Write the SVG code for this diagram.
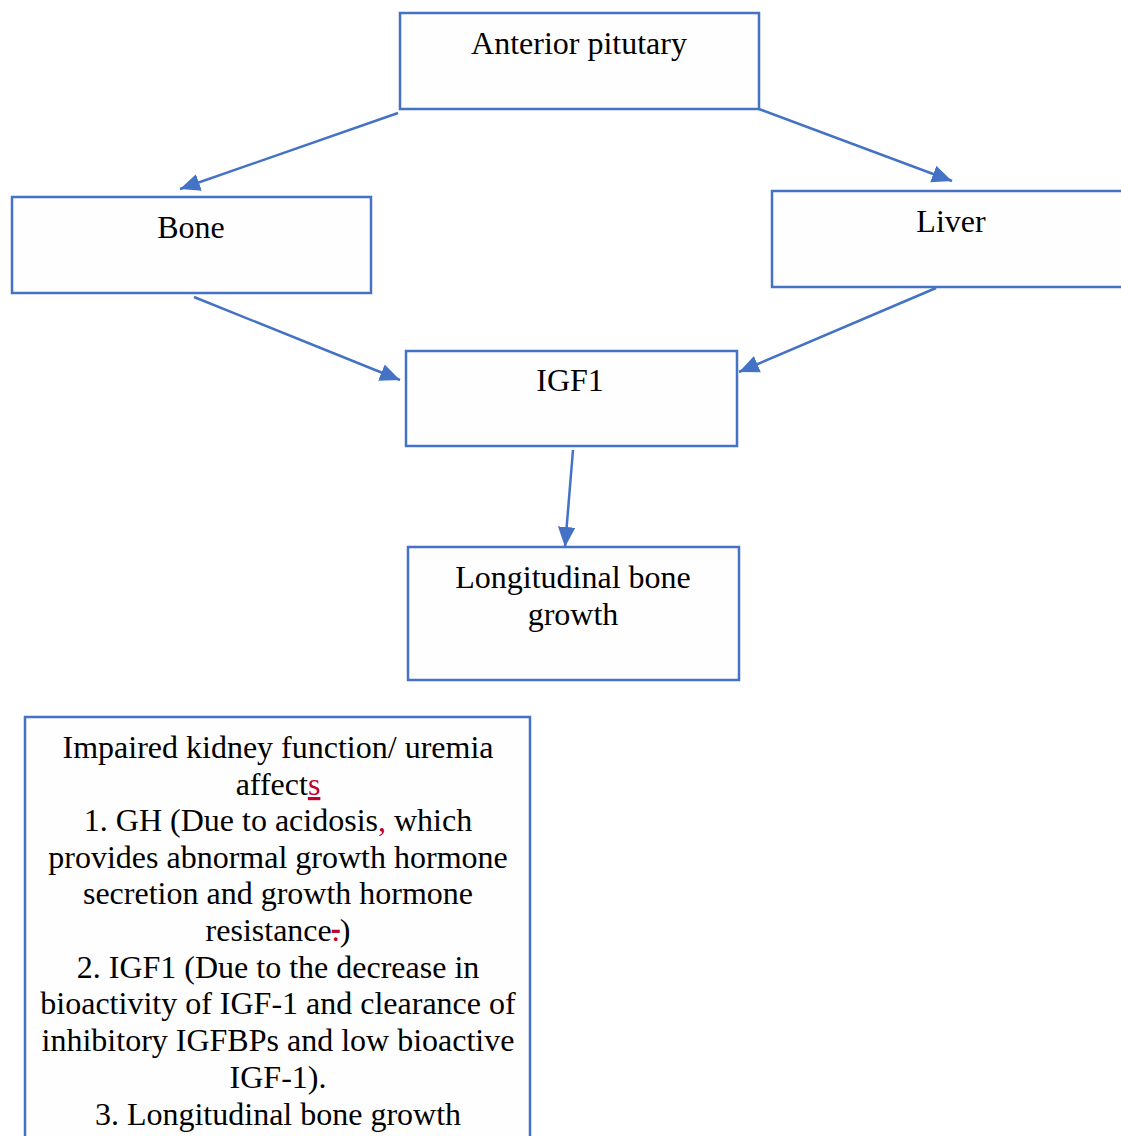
<svg xmlns="http://www.w3.org/2000/svg" width="1121" height="1136" viewBox="0 0 1121 1136">
<defs>
<style>
.box{fill:#fefefe;stroke:#4472c4;stroke-width:2.5}
.lbl{font-family:"Liberation Serif","Times New Roman",serif;font-size:32px;fill:#000;text-anchor:middle}
.con{stroke:#4472c4;stroke-width:2.5;fill:none;marker-end:url(#ah)}
.rev{fill:#c00030}
</style>
<marker id="ah" markerUnits="userSpaceOnUse" markerWidth="20" markerHeight="20" viewBox="0 0 16 14" refX="16" refY="7" orient="auto">
<path d="M0,0 L16,7 L0,14 Z" fill="#4472c4"/>
</marker>
</defs>
<rect width="1121" height="1136" fill="#fff"/>
<g id="connectors">
<line class="con" x1="398" y1="113" x2="180" y2="189"/>
<line class="con" x1="759" y1="109" x2="952" y2="181"/>
<line class="con" x1="194" y1="297" x2="400" y2="380"/>
<line class="con" x1="936" y1="288" x2="739" y2="372"/>
<line class="con" x1="573" y1="450" x2="565" y2="547"/>
</g>
<g id="anterior-pituitary">
<rect class="box" x="400" y="13" width="359" height="96"/>
<text class="lbl" x="579" y="54">Anterior pitutary</text>
</g>
<g id="bone">
<rect class="box" x="12" y="197" width="359" height="96"/>
<text class="lbl" x="191" y="238">Bone</text>
</g>
<g id="liver">
<rect class="box" x="772" y="191" width="360" height="96"/>
<text class="lbl" x="951" y="232">Liver</text>
</g>
<g id="igf1">
<rect class="box" x="406" y="351" width="331" height="95"/>
<text class="lbl" x="570" y="391">IGF1</text>
</g>
<g id="longitudinal">
<rect class="box" x="408" y="547" width="331" height="133"/>
<text class="lbl" x="573" y="588">Longitudinal bone</text>
<text class="lbl" x="573" y="625">growth</text>
</g>
<g id="kidney-note">
<rect class="box" x="25" y="717" width="505" height="440"/>
<text class="lbl" x="278" y="758">Impaired kidney function/ uremia</text>
<text class="lbl" x="278" y="795">affect<tspan class="rev" text-decoration="underline">s</tspan></text>
<text class="lbl" x="278" y="831">1. GH (Due to acidosis<tspan class="rev" text-decoration="underline">,</tspan> which</text>
<text class="lbl" x="278" y="868">provides abnormal growth hormone</text>
<text class="lbl" x="278" y="904">secretion and growth hormone</text>
<text class="lbl" x="278" y="941">resistance<tspan class="rev" text-decoration="line-through">.</tspan>)</text>
<text class="lbl" x="278" y="978">2. IGF1 (Due to the decrease in</text>
<text class="lbl" x="278" y="1014">bioactivity of IGF-1 and clearance of</text>
<text class="lbl" x="278" y="1051">inhibitory IGFBPs and low bioactive</text>
<text class="lbl" x="278" y="1088">IGF-1).</text>
<text class="lbl" x="278" y="1125">3. Longitudinal bone growth</text>
</g>
</svg>
